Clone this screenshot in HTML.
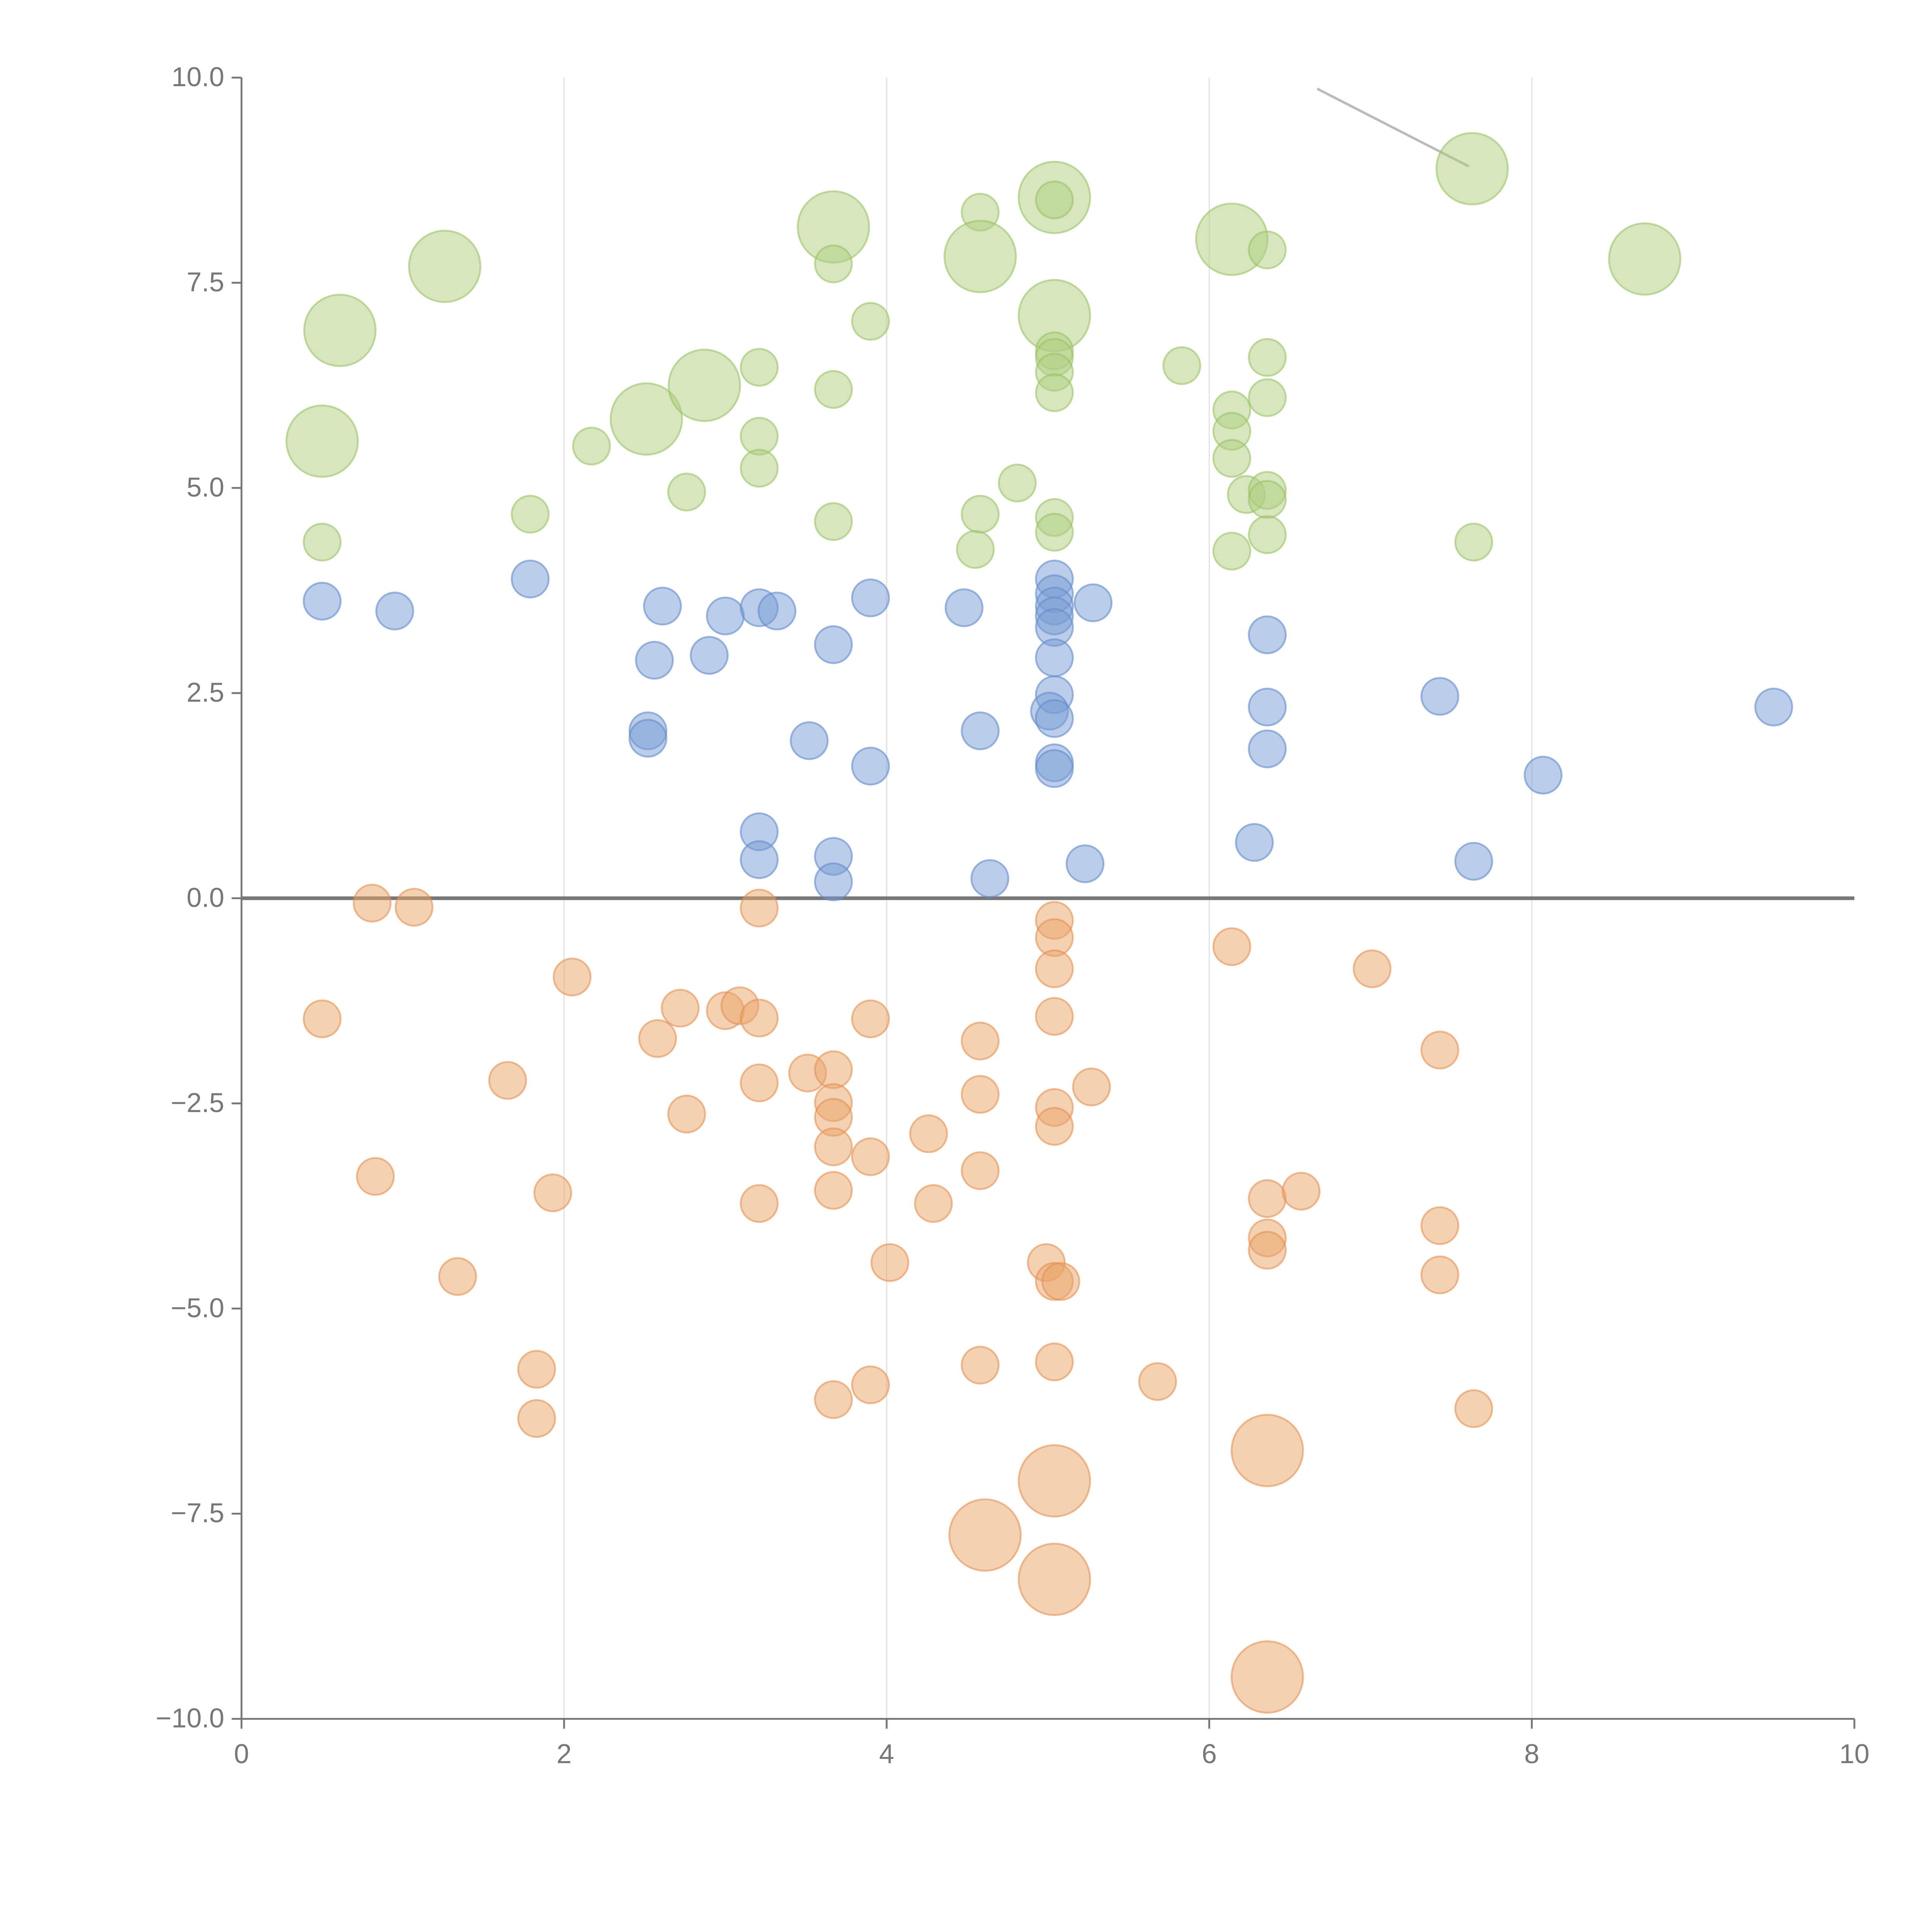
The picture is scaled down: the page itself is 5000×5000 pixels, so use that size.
<!DOCTYPE html>
<html><head><meta charset="utf-8">
<style>html,body{margin:0;padding:0;background:#fff;}svg{display:block;}</style>
</head><body>
<svg id="chart" xmlns="http://www.w3.org/2000/svg" width="5000" height="5000" viewBox="0 0 1568 1568">
<g id="grid"></g>
<g id="axes"></g>
<line x1="1069" y1="72" x2="1192" y2="135" stroke="#bbb" stroke-width="2"/>
<g id="marks"></g>
</svg>
<script>
const xTicks=[0,2,4,6,8,10];
const yTicks=[10,7.5,5,2.5,0,-2.5,-5,-7.5,-10];
const greenX=[0.5,0.61,1.26,0.5,1.79,2.17,2.51,2.87,2.76,3.21,3.21,3.21,3.67,3.67,3.67,3.67,3.90,4.58,4.58,4.58,4.55,4.81,5.04,5.04,5.04,5.04,5.04,5.04,5.04,5.04,5.04,5.83,6.14,6.14,6.14,6.14,6.23,6.14,6.36,6.36,6.36,6.36,6.36,6.36,7.63,7.64,8.70];
const greenY=[5.57,6.92,7.70,4.34,4.68,5.51,5.84,6.25,4.95,6.47,5.63,5.24,8.18,7.73,6.20,4.59,7.03,8.36,7.82,4.68,4.25,5.06,8.54,8.51,7.10,6.67,6.59,6.41,6.16,4.64,4.46,6.49,8.03,5.95,5.69,5.36,4.92,4.23,7.90,6.59,6.10,4.97,4.86,4.43,8.89,4.34,7.79];
const greenS=[2,2,2,1,1,1,2,2,1,1,1,1,2,1,1,1,1,1,2,1,1,1,2,1,2,1,1,1,1,1,1,1,2,1,1,1,1,1,1,1,1,1,1,1,2,1,2];
const blueX=[0.5,0.95,1.79,2.61,2.56,2.52,2.52,2.90,3.0,3.21,3.32,3.52,3.67,3.90,3.90,3.21,3.21,3.67,3.67,4.48,4.58,4.64,5.04,5.04,5.04,5.04,5.04,5.04,5.04,5.01,5.04,5.04,5.04,5.28,5.23,6.36,6.36,6.36,6.28,7.43,7.64,8.07,9.50];
const blueY=[3.62,3.50,3.89,3.56,2.90,2.04,1.95,2.96,3.44,3.54,3.50,1.92,3.09,3.66,1.61,0.81,0.47,0.51,0.20,3.54,2.04,0.24,3.89,3.71,3.56,3.44,3.30,2.93,2.48,2.28,2.19,1.65,1.58,3.60,0.42,3.21,2.33,1.82,0.68,2.46,0.45,1.50,2.33];
const orangeX=[0.81,1.07,0.5,0.83,1.34,1.65,1.83,1.83,1.93,2.05,2.58,2.72,2.76,3.0,3.09,3.21,3.21,3.21,3.21,3.51,3.67,3.67,3.67,3.67,3.67,3.67,3.90,3.90,3.90,4.02,4.26,4.29,4.58,4.58,4.58,4.58,4.61,5.04,5.04,5.04,5.04,5.04,5.04,4.99,5.04,5.08,5.04,5.04,5.04,5.27,5.68,6.14,6.36,6.57,6.36,6.36,6.36,6.36,7.01,7.43,7.43,7.43,7.64];
const orangeY=[-0.06,-0.11,-1.47,-3.39,-4.61,-2.22,-5.74,-6.34,-3.59,-0.96,-1.71,-1.34,-2.63,-1.37,-1.31,-1.46,-0.12,-2.25,-3.72,-2.13,-2.09,-2.49,-2.67,-3.03,-3.56,-6.11,-1.47,-3.15,-5.93,-4.44,-2.87,-3.72,-1.74,-2.39,-3.32,-5.69,-7.76,-0.27,-0.48,-0.86,-1.44,-2.55,-2.78,-4.44,-4.67,-4.67,-5.65,-7.10,-8.30,-2.30,-5.89,-0.59,-3.66,-3.57,-4.14,-4.29,-6.73,-9.49,-0.86,-1.85,-3.99,-4.59,-6.22];
const orangeS=orangeX.map((_,i)=>[36,47,48,56,57].includes(i)?2:1);

const NS="http://www.w3.org/2000/svg";
const X0=196,X1=1505,Y0=1395,Y1=63;
function sx(v){return X0+(v-0)/(10-0)*(X1-X0);}
function sy(v){return Y0-(v+10)/20*(Y0-Y1);}
function mk(tag,attrs,parent){const e=document.createElementNS(NS,tag);for(const k in attrs)e.setAttribute(k,attrs[k]);parent.appendChild(e);return e;}
const grid=document.getElementById('grid'),axes=document.getElementById('axes'),marks=document.getElementById('marks');
xTicks.forEach(t=>{
  if(t>0&&t<10){const g=mk('line',{x1:sx(t),x2:sx(t),y1:Y1,y2:Y0,stroke:'#e2e2e2','stroke-width':1},grid);
  
  }
  const tk=mk('line',{x1:sx(t),x2:sx(t),y1:Y0,y2:Y0+8,stroke:'#777','stroke-width':1.5},axes);
  
  
  const tx=mk('text',{x:sx(t),y:Y0+36,'text-anchor':'middle','font-size':22,fill:'#777','font-family':'Liberation Sans, sans-serif'},axes);
  tx.textContent=t;
  
  
});
yTicks.forEach(t=>{
  const tk=mk('line',{x1:X0-8,x2:X0,y1:sy(t),y2:sy(t),stroke:'#777','stroke-width':1.5},axes);
  
  
  const tx=mk('text',{x:X0-14,y:sy(t)+7,'text-anchor':'end','font-size':22,fill:'#777','font-family':'Liberation Sans, sans-serif'},axes);
  tx.textContent=(t<0?'\u2212':'')+Math.abs(t).toFixed(1);
  
  
});
const ya=mk('line',{x1:X0,x2:X0,y1:Y1,y2:Y0,stroke:'#777','stroke-width':1.5},axes);


const xa=mk('line',{x1:X0,x2:X1,y1:Y0,y2:Y0,stroke:'#777','stroke-width':1.5},axes);


const zl=mk('line',{x1:X0,x2:X1,y1:sy(0),y2:sy(0),stroke:'#777','stroke-width':3},axes);



function series(xs,ys,ss,fill,stroke,name){
  xs.forEach((x,i)=>{
    const s=ss?ss[i]:1;
    const c=mk('circle',{cx:sx(x),cy:sy(ys[i]),r:s===2?29:15,fill:fill,stroke:stroke,'stroke-width':1.5},marks);
    
    
  });
}
series(greenX,greenY,greenS,'rgba(176,206,128,0.5)','rgba(150,192,95,0.55)','green-bubble');
series(blueX,blueY,null,'rgba(120,155,212,0.5)','rgba(100,140,205,0.6)','blue-bubble');
series(orangeX,orangeY,orangeS,'rgba(234,163,104,0.5)','rgba(225,140,75,0.55)','orange-bubble');
</script>
</body></html>
